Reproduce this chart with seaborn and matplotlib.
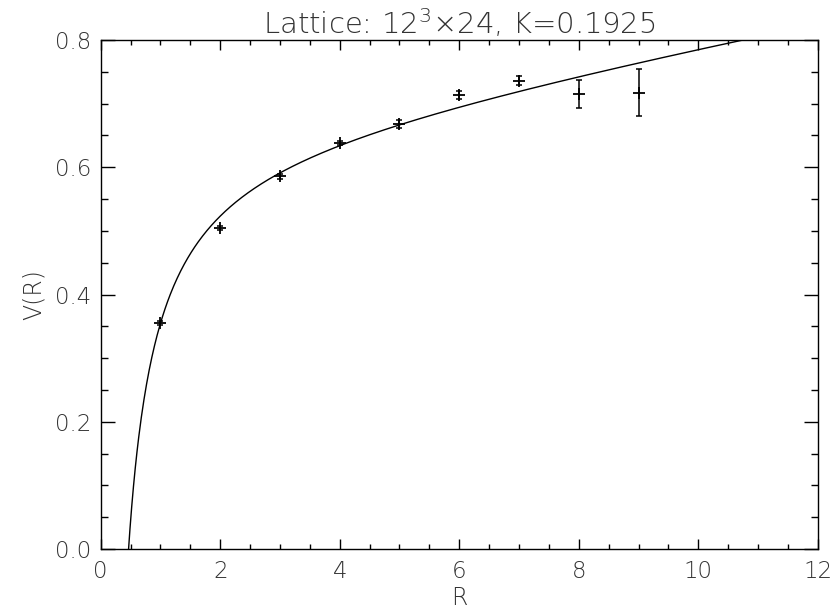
import numpy as np
import pandas as pd
import matplotlib
matplotlib.use("Agg")
import matplotlib.pyplot as plt
import seaborn as sns

# ---- data ----
R_vals = [1, 2, 3, 4, 5, 6, 7, 8, 9]
V_vals = [0.355, 0.505, 0.586, 0.638, 0.668, 0.714, 0.736, 0.715, 0.717]
V_errs = [0.003, 0.003, 0.004, 0.003, 0.007, 0.006, 0.007, 0.022, 0.037]

# Cornell-type fit V(R) = A + sigma*R - e/R (parameters)
fit_A = 0.639
fit_sigma = 0.0176
fit_e = 0.302

x_ticks = [0, 2, 4, 6, 8, 10, 12]
y_ticks = [0.0, 0.2, 0.4, 0.6, 0.8]
title_text = r"Lattice: 12$^{3}$×24, K=0.1925"
x_label = "R"
y_label = "V(R)"

sns.set_theme(style="white")
plt.rcParams["font.family"] = ["DejaVu Sans"]
plt.rcParams["font.weight"] = "light"
plt.rcParams["axes.titleweight"] = "light"
plt.rcParams["axes.labelweight"] = "light"
plt.rcParams["mathtext.fontset"] = "custom"
plt.rcParams["mathtext.rm"] = "DejaVu Sans:light"
plt.rcParams["mathtext.it"] = "DejaVu Sans:light"
plt.rcParams["mathtext.bf"] = "DejaVu Sans"

txt = "#333333"

fig = plt.figure(figsize=(8.32, 6.13), dpi=100)
ax = fig.add_axes([0.121, 0.1044, 0.862, 0.8303])

r_curve = np.linspace(0.3, 12, 800)
v_curve = fit_A + fit_sigma * r_curve - fit_e / r_curve
curve_df = pd.DataFrame({"R": r_curve, "V": v_curve})
sns.lineplot(data=curve_df, x="R", y="V", ax=ax, color="black", linewidth=1.0,
             sort=False, estimator=None)

pts = pd.DataFrame({"R": R_vals, "V": V_vals, "err": V_errs})
ax.errorbar(pts["R"], pts["V"], yerr=pts["err"], fmt="none", ecolor="black",
            elinewidth=1.1, capsize=2.5, capthick=1.1)
sns.scatterplot(data=pts, x="R", y="V", ax=ax, marker="+", s=64, color="black",
                linewidth=1.3, zorder=5)

ax.set_xlim(0, 12)
ax.set_ylim(0, 0.8)
ax.set_xticks(x_ticks)
ax.set_xticklabels([str(t) for t in x_ticks])
ax.set_yticks(y_ticks)
ax.set_yticklabels([f"{t:.1f}" for t in y_ticks])
ax.set_xticks(np.arange(0, 12.01, 0.5), minor=True)
ax.set_yticks(np.arange(0, 0.801, 0.05), minor=True)

ax.tick_params(axis="x", which="major", direction="in", length=7.3, width=1.0,
               top=True, bottom=True, color="black", labelsize=16.5, labelcolor=txt, pad=8)
ax.tick_params(axis="x", which="minor", direction="in", length=3.7, width=1.0,
               top=True, bottom=True, color="black")
ax.tick_params(axis="y", which="major", direction="in", length=10.4, width=1.0,
               left=True, right=True, color="black", labelsize=16.5, labelcolor=txt, pad=7)
ax.tick_params(axis="y", which="minor", direction="in", length=5.2, width=1.0,
               left=True, right=True, color="black")

for sp in ax.spines.values():
    sp.set_color("black")
    sp.set_linewidth(1.0)

ax.set_xlabel(x_label, fontsize=17, color=txt, labelpad=2, fontweight="light")
ax.set_ylabel(y_label, fontsize=17, color=txt, labelpad=6, fontweight="light")
ax.set_title(title_text, fontsize=21, color=txt, pad=4, fontweight="light")

fig.savefig("out.png", dpi=100)
